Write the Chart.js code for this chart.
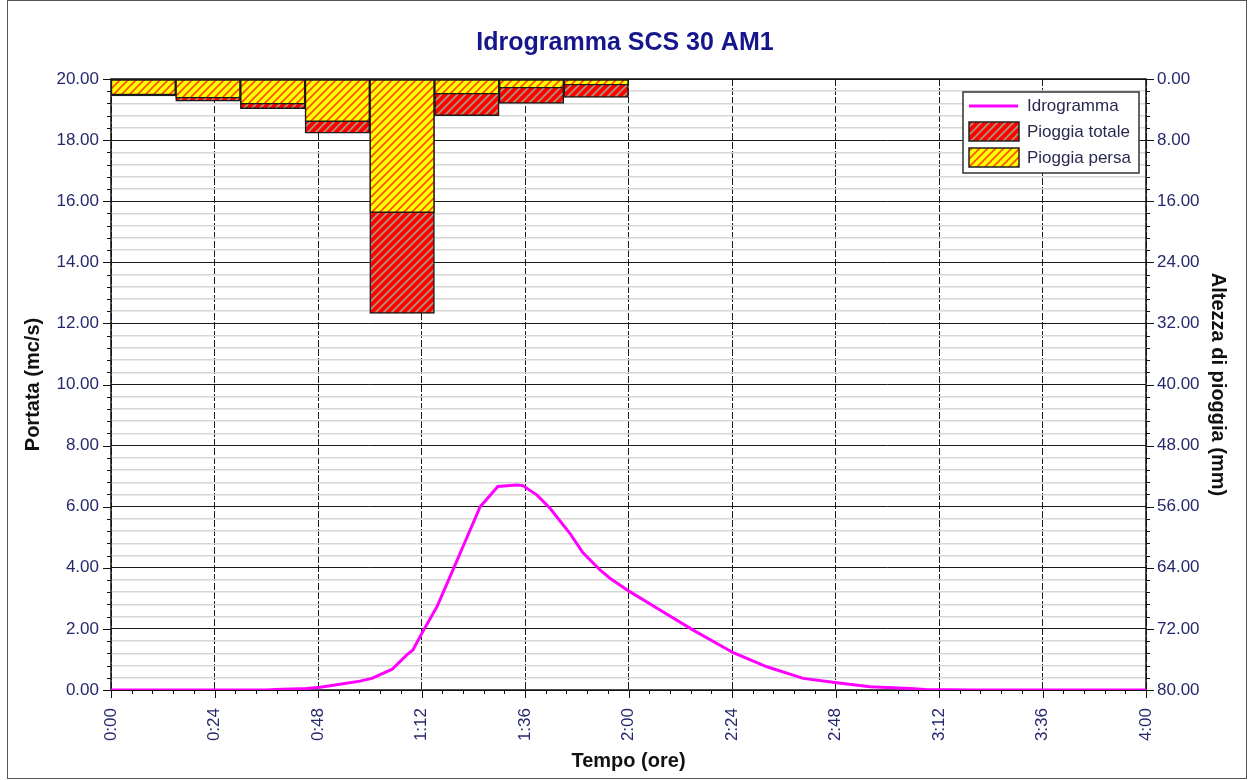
<!DOCTYPE html>
<html><head><meta charset="utf-8">
<script src="https://cdn.jsdelivr.net/npm/chart.js@4/dist/chart.umd.min.js"></script>
<style>html,body{margin:0;padding:0;background:#fff;}</style>
</head><body>
<canvas id="c" width="1250" height="780"></canvas>
<script>
// ---- data ----
const chartTitle = 'Idrogramma SCS 30 AM1';
const seriesNames = ['Idrogramma', 'Pioggia totale', 'Pioggia persa'];
// hydrograph: time (minutes) and discharge (mc/s)
const timeMinutes = [0, 36, 38, 45.4, 48.5, 53.1, 57.7, 60.5, 65.2, 68.6, 70, 72.3, 75.6, 79.3, 81.6, 85.6, 89.7, 94.1, 95.5, 98.8, 101.8, 106.4, 109.4, 113.4, 115.7, 120.3, 127.3, 135, 144.3, 152.1, 160.5, 168.3, 176, 185.3, 188.8, 200, 240];
const portata = [0, 0, 0.02, 0.05, 0.09, 0.19, 0.29, 0.38, 0.68, 1.15, 1.31, 1.91, 2.73, 3.93, 4.69, 6.0, 6.66, 6.71, 6.69, 6.38, 5.95, 5.13, 4.5, 3.93, 3.66, 3.22, 2.62, 1.96, 1.22, 0.76, 0.38, 0.24, 0.11, 0.05, 0.02, 0, 0];
// rainfall: 15-minute intervals (centre time, minutes) and depths (mm)
const rainStep = 15;
const rainTimes = [7.5, 22.5, 37.5, 52.5, 67.5, 82.5, 97.5, 112.5];
const pioggiaTotale = [2.2, 2.9, 3.9, 7.1, 30.7, 4.8, 3.2, 2.4];
const pioggiaPersa = [2.1, 2.5, 3.3, 5.6, 17.5, 2.0, 1.2, 0.8];
// axes
const xMajorStep = 24, xMinorStep = 4.8;
const yMajorStep = 2, yMinorStep = 0.4;
const y2MajorStep = 8, y2MinorStep = 1.6;

// ---- styling ----
const FONT = '"Liberation Sans", Arial, sans-serif';
const tickColor = '#25286a';
const canvas = document.getElementById('c');
const ctx = canvas.getContext('2d');

function hatch(bg, fg, lw) {
  const s = 8;
  const c = document.createElement('canvas'); c.width = s; c.height = s;
  const x = c.getContext('2d');
  x.fillStyle = bg; x.fillRect(0, 0, s, s);
  x.strokeStyle = fg; x.lineWidth = lw;
  x.beginPath();
  x.moveTo(-1, s + 1); x.lineTo(s + 1, -1);
  x.moveTo(-s / 2 - 1, s / 2 + 1); x.lineTo(s / 2 + 1, -s / 2 - 1);
  x.moveTo(s / 2 - 1, s * 1.5 + 1); x.lineTo(s * 1.5 + 1, s / 2 - 1);
  x.stroke();
  return ctx.createPattern(c, 'repeat');
}
const redPattern = hatch('#ff0000', '#a89a7c', 1.6);
const yellowPattern = hatch('#ffff00', '#ff4a00', 1.6);

const isMult = (v, step) => Math.abs(v / step - Math.round(v / step)) < 1e-6;
const fmtTime = v => { const m = Math.round(v); return Math.floor(m / 60) + ':' + String(m % 60).padStart(2, '0'); };

const decorPlugin = {
  id: 'decor',
  beforeDatasetsDraw(chart) {
    const { ctx, chartArea: a, scales } = chart;
    ctx.save();
    ctx.strokeStyle = '#111';
    ctx.lineWidth = 1;
    ctx.beginPath();
    const sx = scales.x;
    sx.ticks.forEach(t => {
      const p = Math.round(sx.getPixelForValue(t.value)) + 0.5;
      const L = isMult(t.value, xMajorStep) ? 8 : 4;
      ctx.moveTo(p, a.bottom); ctx.lineTo(p, a.bottom + L);
    });
    const sy = scales.y;
    sy.ticks.forEach(t => {
      const p = Math.round(sy.getPixelForValue(t.value)) + 0.5;
      const L = isMult(t.value, yMajorStep) ? 8 : 4;
      ctx.moveTo(a.left, p); ctx.lineTo(a.left - L, p);
    });
    const sy2 = scales.y2;
    sy2.ticks.forEach(t => {
      const p = Math.round(sy2.getPixelForValue(t.value)) + 0.5;
      const L = isMult(t.value, y2MajorStep) ? 8 : 4;
      ctx.moveTo(a.right, p); ctx.lineTo(a.right + L, p);
    });
    ctx.stroke();
    ctx.lineWidth = 1.5;
    ctx.strokeStyle = '#111';
    ctx.strokeRect(a.left, a.top, a.right - a.left, a.bottom - a.top);
    ctx.restore();
  },
  afterDraw(chart) {
    const { ctx, chartArea: a } = chart;
    ctx.save();
    // legend
    const bw = 176, bh = 81;
    const bx = a.right - 7 - bw, by = a.top + 13;
    ctx.fillStyle = '#fff';
    ctx.fillRect(bx, by, bw, bh);
    ctx.strokeStyle = '#333';
    ctx.lineWidth = 1.5;
    ctx.strokeRect(bx, by, bw, bh);
    ctx.font = '17px ' + FONT;
    ctx.fillStyle = '#2a2a50';
    ctx.textBaseline = 'middle';
    ctx.textAlign = 'left';
    const sx = bx + 6, tx = bx + 64;
    ctx.strokeStyle = '#ff00ff'; ctx.lineWidth = 3;
    ctx.beginPath(); ctx.moveTo(sx, by + 14); ctx.lineTo(sx + 49, by + 14); ctx.stroke();
    ctx.fillText(seriesNames[0], tx, by + 14);
    const items = [[redPattern, seriesNames[1], by + 30], [yellowPattern, seriesNames[2], by + 56]];
    items.forEach(([pat, name, y]) => {
      ctx.fillStyle = pat; ctx.fillRect(sx, y, 50, 19);
      ctx.strokeStyle = '#222'; ctx.lineWidth = 1.5; ctx.strokeRect(sx, y, 50, 19);
      ctx.fillStyle = '#2a2a50';
      ctx.fillText(name, tx, y + 10);
    });
    // outer frame
    ctx.strokeStyle = '#555'; ctx.lineWidth = 1;
    ctx.strokeRect(7.5, 0.5, 1239, 778);
    ctx.restore();
  }
};

new Chart(ctx, {
  type: 'line',
  data: {
    datasets: [
      {
        type: 'line', label: seriesNames[0],
        data: timeMinutes.map((t, i) => ({ x: t, y: portata[i] })),
        borderColor: '#ff00ff', backgroundColor: '#ff00ff', borderWidth: 3,
        pointRadius: 0, tension: 0, fill: false, xAxisID: 'x', yAxisID: 'y', order: 0
      },
      {
        type: 'bar', label: seriesNames[1],
        data: rainTimes.map((t, i) => ({ x: t, y: pioggiaTotale[i] })),
        backgroundColor: redPattern, borderColor: '#1a1a1a', borderWidth: 1.5, borderSkipped: false,
        xAxisID: 'xr', yAxisID: 'y2', grouped: false, barPercentage: 1, categoryPercentage: 1, order: 2
      },
      {
        type: 'bar', label: seriesNames[2],
        data: rainTimes.map((t, i) => ({ x: t, y: pioggiaPersa[i] })),
        backgroundColor: yellowPattern, borderColor: '#1a1a1a', borderWidth: 1.5, borderSkipped: false,
        xAxisID: 'xr', yAxisID: 'y2', grouped: false, barPercentage: 1, categoryPercentage: 1, order: 1
      }
    ]
  },
  options: {
    responsive: false, animation: false, devicePixelRatio: 1,
    layout: { padding: 0 },
    plugins: {
      legend: { display: false },
      tooltip: { enabled: false },
      title: {
        display: true, text: chartTitle, color: '#16168c',
        font: { family: FONT, size: 25, weight: 'bold' },
        padding: { top: 28, bottom: 21 }
      }
    },
    scales: {
      x: {
        type: 'linear', position: 'bottom', min: 0, max: 240, offset: false,
        ticks: {
          stepSize: xMinorStep, autoSkip: false, maxRotation: 90, minRotation: 90, padding: 18,
          color: tickColor, font: { family: FONT, size: 17 },
          callback: v => isMult(v, xMajorStep) ? fmtTime(v) : ''
        },
        grid: {
          offset: false, drawTicks: false, lineWidth: 1,
          color: c => isMult(c.tick.value, xMajorStep) ? '#1a1a1a' : 'rgba(0,0,0,0)'
        },
        border: { display: false, dash: [7, 2] },
        title: { display: true, text: 'Tempo (ore)', color: '#111', font: { family: FONT, size: 20, weight: 'bold' }, padding: { top: 0, bottom: 7 } },
        afterFit: s => { s.height = 90; }
      },
      xr: {
        type: 'linear', position: 'bottom', display: false, min: 0, max: 240, offset: false,
        ticks: { stepSize: rainStep }
      },
      y: {
        type: 'linear', position: 'left', min: 0, max: 20,
        ticks: {
          stepSize: yMinorStep, autoSkip: false, padding: 12,
          color: tickColor, font: { family: FONT, size: 17 },
          callback: v => isMult(v, yMajorStep) ? v.toFixed(2) : ''
        },
        grid: {
          drawTicks: false,
          color: c => isMult(c.tick.value, yMajorStep) ? '#1a1a1a' : '#d6d6d6',
          lineWidth: c => isMult(c.tick.value, yMajorStep) ? 1 : 1.5
        },
        border: { display: false },
        title: { display: true, text: 'Portata (mc/s)', color: '#111', font: { family: FONT, size: 20, weight: 'bold' }, padding: { top: 21, bottom: 0 } },
        afterFit: s => { s.width = 111; }
      },
      y2: {
        type: 'linear', position: 'right', min: 0, max: 80, reverse: true,
        ticks: {
          stepSize: y2MinorStep, autoSkip: false, padding: 11,
          color: tickColor, font: { family: FONT, size: 17 },
          callback: v => isMult(v, y2MajorStep) ? v.toFixed(2) : ''
        },
        grid: { drawOnChartArea: false, drawTicks: false },
        border: { display: false },
        title: { display: true, text: 'Altezza di pioggia (mm)', color: '#111', font: { family: FONT, size: 20, weight: 'bold' }, padding: { top: 20, bottom: 0 } },
        afterFit: s => { s.width = 104; }
      }
    }
  },
  plugins: [decorPlugin]
});
</script>
</body></html>
